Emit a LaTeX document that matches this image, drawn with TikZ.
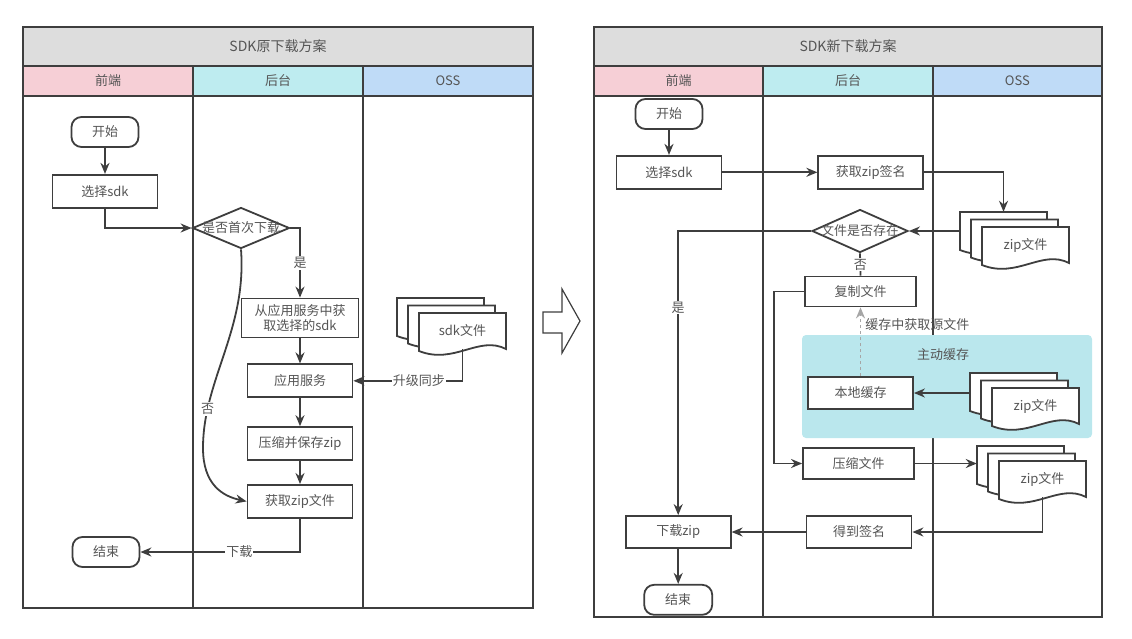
\documentclass[tikz,border=0pt]{standalone}
\usepackage{fontspec}
\setmainfont{Noto Sans CJK SC}
\usetikzlibrary{arrows.meta, positioning, shapes.geometric}
\definecolor{lineGray}{RGB}{62, 62, 62}
\definecolor{textGray}{RGB}{85, 85, 85}
\definecolor{titleGray}{RGB}{221, 221, 221}
\definecolor{laneFront}{RGB}{246, 207, 214}
\definecolor{laneBack}{RGB}{190, 236, 240}
\definecolor{laneOss}{RGB}{191, 219, 247}
\definecolor{cacheTeal}{RGB}{186, 231, 237}

% stack of three pages: x, y of the back page, name, text
\newcommand{\docstack}[4]{%
  \foreach \dx/\dy in {0/0, 11/7.5, 22/15}{
    \filldraw[docpage, shift={(#1+\dx,#2+\dy)}] (0,0) -- (87,0) -- (87,36) .. controls (60,22) and (35,52) .. (0,38) -- cycle;
  }
  \node[docbox] (#3b) at (#1+43.5,#2+18) {};
  \node[docbox] (#3) at (#1+65.5,#2+33) {#4};
}

\begin{document}
\begin{tikzpicture}[
      x=1pt, y=-1pt,
      every node/.style={font=\fontsize{13}{15}\selectfont, text=textGray},
      titlebar/.style={rectangle, draw=lineGray, fill=titleGray, line width=1.9pt, minimum height=39pt, font=\fontsize{14}{16}\selectfont},
      lanehead/.style={rectangle, draw=lineGray, line width=1.9pt, minimum height=30pt},
      lane/.style={draw=lineGray, line width=1.9pt},
      term/.style={rectangle, draw=lineGray, fill=white, rounded corners=10pt, line width=1.8pt, minimum width=67pt, minimum height=30pt},
      proc/.style={rectangle, draw=lineGray, fill=white, line width=1.8pt, align=center, inner sep=2pt, minimum width=105pt, minimum height=33pt},
      decide/.style={diamond, draw=lineGray, fill=white, line width=1.8pt, inner sep=0pt, minimum width=97pt, minimum height=41pt},
      docpage/.style={draw=lineGray, fill=white, line width=1.8pt},
      docbox/.style={draw=none, inner sep=0pt, minimum width=87pt, minimum height=36pt},
      lbl/.style={fill=white, inner sep=1pt},
      arrow/.style={-{Stealth[length=11pt, width=9pt]}, line width=1.8pt, draw=lineGray},
      plain/.style={line width=1.8pt, draw=lineGray},
      dasharrow/.style={-{Stealth[length=11pt, width=9pt]}, line width=1.8pt, draw=gray!70, dashed}
    ]
      \useasboundingbox (0,0) rectangle (1132,638);

      % Left panel: old download scheme
      \node[titlebar, minimum width=510pt] (title1) at (278,46.5) {SDK原下载方案};
      \node[lanehead, fill=laneFront, minimum width=170pt] (head1a) at (108,81) {前端};
      \node[lanehead, fill=laneBack, minimum width=170pt] (head1b) at (278,81) {后台};
      \node[lanehead, fill=laneOss, minimum width=170pt] (head1c) at (448,81) {OSS};
      \draw[lane] (23,96) rectangle (533,608);
      \draw[lane] (193,96) -- (193,608) (363,96) -- (363,608);

      \node[term] (start1) at (105,132) {开始};
      \node[proc, below=26pt of start1] (sel1) {选择sdk};
      \node[decide] (first) at (241,228) {\makebox[0pt]{是否首次下载}};
      \node[proc, minimum width=117pt, minimum height=39pt] (fetch) at (300,318) {从应用服务中获\\取选择的sdk};
      \node[proc, below=25pt of fetch] (appsvc) {应用服务};
      \node[proc, below=28pt of appsvc] (pack) {压缩并保存zip};
      \node[proc, below=23pt of pack] (getzip) {获取zip文件};
      \node[term] (end1) at (106,552) {结束};
      \docstack{397}{298}{sdk}{sdk文件}

      \draw[arrow] (start1) -- (sel1);
      \draw[arrow] (sel1.south) |- (first.west);
      \draw[arrow] (first.east) -| node[pos=0.75, lbl]{是} (fetch.north);
      \draw[arrow] (fetch) -- (appsvc);
      \draw[arrow] (appsvc) -- (pack);
      \draw[arrow] (pack) -- (getzip);
      \draw[arrow] (first.south) .. controls (247,330) and (203,380) .. node[pos=0.8, lbl]{否} (203,448) .. controls (203,484) and (222,496) .. (getzip.west);
      \draw[arrow] (sdk.south) |- node[pos=0.7, lbl]{升级同步} (appsvc.east);
      \draw[arrow] (getzip.south) |- node[pos=0.69, lbl]{下载} (end1.east);

      % Hollow arrow between the panels
      \draw[draw=lineGray, line width=1.2pt, fill=white] (543,312) -- (562,312) -- (562,289) -- (580,321) -- (562,353) -- (562,333) -- (543,333) -- cycle;

      % Right panel: new download scheme
      \node[titlebar, minimum width=508pt] (title2) at (848,46.5) {SDK新下载方案};
      \node[lanehead, fill=laneFront, minimum width=169.33pt] (head2a) at (678.67,81) {前端};
      \node[lanehead, fill=laneBack, minimum width=169.33pt] (head2b) at (848,81) {后台};
      \node[lanehead, fill=laneOss, minimum width=169.33pt] (head2c) at (1017.33,81) {OSS};
      \draw[lane] (594,96) rectangle (1102,617);
      \draw[lane] (763.33,96) -- (763.33,617) (932.67,96) -- (932.67,617);

      % Active cache area
      \fill[cacheTeal, rounded corners=4pt] (802,335) rectangle (1092,438);
      \node (cachelbl) at (943,355) {主动缓存};

      \node[term] (start2) at (669,114) {开始};
      \node[proc, below=25pt of start2] (sel2) {选择sdk};
      \node[proc, right=95pt of sel2] (sig) {获取zip签名};
      \docstack{960}{212}{zipA}{zip文件}
      \node[decide, minimum width=96pt, minimum height=43pt] (exist) at (860,231) {\makebox[0pt]{文件是否存在}};
      \node[proc, minimum width=111pt, minimum height=30pt] (copy) at (860.5,291.5) {复制文件};
      \node[proc, minimum height=32pt] (local) at (860.5,393) {本地缓存};
      \docstack{970}{373}{zipB}{zip文件}
      \node[proc, minimum width=111pt, minimum height=31pt] (cmp) at (858.5,463.5) {压缩文件};
      \docstack{977}{446}{zipC}{zip文件}
      \node[proc, minimum height=32pt] (sign) at (859,532) {得到签名};
      \node[proc, minimum height=32pt, left=74pt of sign] (dl) {下载zip};
      \node[term, minimum width=68pt, below=35pt of dl] (end2) {结束};

      \draw[arrow] (start2) -- (sel2);
      \draw[arrow] (sel2) -- (sig);
      \draw[arrow] (sig.east) -| (zipAb.north);
      \draw[arrow] (zipAb.west |- exist) -- (exist.east);
      \draw[arrow] (exist.west) -| node[pos=0.635, lbl]{是} (dl.north);
      \draw[plain] (exist.south) -- node[lbl]{否} (copy.north);
      \draw[arrow] (copy.west) -- ++(-30,0) |- (cmp.west);
      \draw[dasharrow] (local.north) -- node[pos=0.75, right, inner sep=4pt]{缓存中获取源文件} (copy.south);
      \draw[arrow] (zipBb.west |- local) -- (local.east);
      \draw[arrow] (cmp.east) -- (zipCb.west |- cmp);
      \draw[arrow] (zipC.south) |- (sign.east);
      \draw[arrow] (sign) -- (dl);
      \draw[arrow] (dl) -- (end2);
    \end{tikzpicture}
\end{document}
